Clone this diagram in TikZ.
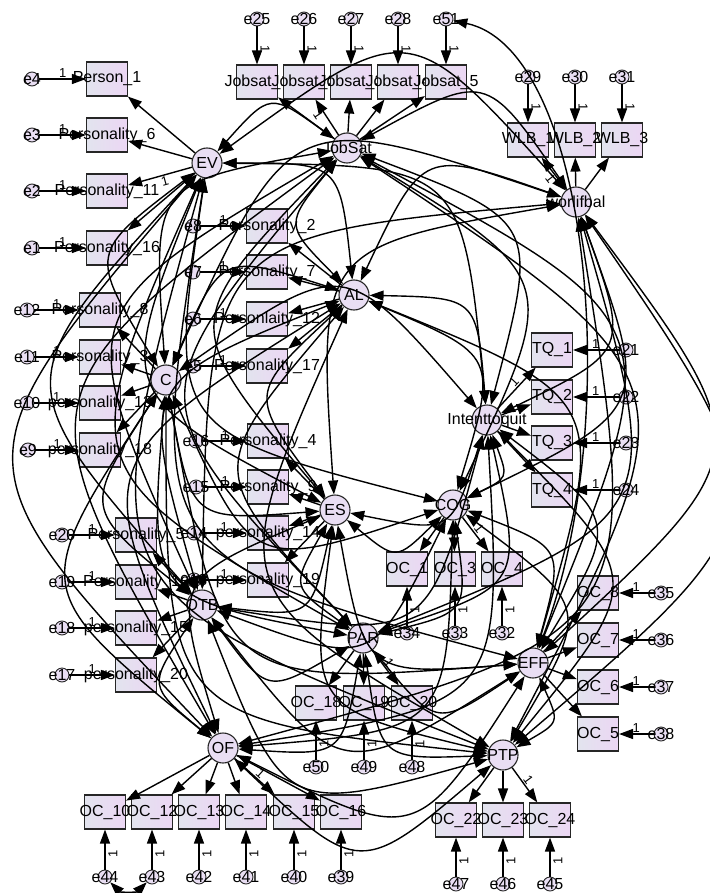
\documentclass[tikz,border=0pt]{standalone}
\usepackage{fontspec}
\setmainfont{Liberation Sans}
\usetikzlibrary{arrows.meta, calc}
\definecolor{boxl}{RGB}{226,228,238}
\definecolor{boxr}{RGB}{236,214,244}
\definecolor{latfill}{RGB}{233,222,243}

\begin{document}
\begin{tikzpicture}[x=1pt,y=-1pt,font=\fontsize{16}{18}\selectfont,
    lat/.style={circle,draw=black!85,line width=1.1pt,fill=latfill,minimum size=30pt,inner sep=0pt,label={center:#1}},
    obs/.style={draw=black!85,line width=1.1pt,left color=boxl,right color=boxr,minimum width=41pt,minimum height=34pt,inner sep=0pt,label={center:#1}},
    err/.style={circle,draw=black!85,line width=0.9pt,fill=latfill,minimum size=14pt,inner sep=0pt,label={center:#1}},
    load/.style={-{Triangle[length=14pt,width=10pt]},line width=1.4pt},
    cov/.style={{Triangle[length=14pt,width=10pt]}-{Triangle[length=14pt,width=10pt]},line width=1.4pt},
    one/.style={font=\fontsize{13}{13}\selectfont,inner sep=1pt}]
    \path[use as bounding box,fill=white] (0,0) rectangle (709,893);

    % latent variables
    \node[lat=EV]           (EV)  at (207,163) {};
    \node[lat=JobSat]       (JS)  at (347,148) {};
    \node[lat=worlifbal]    (WLB) at (576,202) {};
    \node[lat=AL]           (AL)  at (354,295) {};
    \node[lat=C]            (C)   at (166,380) {};
    \node[lat=Intenttoquit] (ITQ) at (487,420) {};
    \node[lat=COG]          (COG) at (453,505) {};
    \node[lat=ES]           (ES)  at (335,510) {};
    \node[lat=OTB]          (OTB) at (202,605) {};
    \node[lat=PAR]          (PAR) at (363,638) {};
    \node[lat=EFF]          (EFF) at (533,663) {};
    \node[lat=OF]           (OF)  at (223,748) {};
    \node[lat=PTP]          (PTP) at (503,755) {};

    % personality items
    \node[obs=Person\_1]        (P1)  at (107,79)  {};
    \node[obs=Personality\_6]   (P6)  at (107,135) {};
    \node[obs=Personality\_11]  (P11) at (107,191) {};
    \node[obs=Personality\_16]  (P16) at (107,248) {};
    \node[obs=Personality\_2]   (P2)  at (267,226) {};
    \node[obs=Personality\_7]   (P7)  at (267,272) {};
    \node[obs=Personlaity\_12]  (P12) at (267,319) {};
    \node[obs=Personality\_17]  (P17) at (267,366) {};
    \node[obs=Personality\_8]   (P8)  at (100,310) {};
    \node[obs=Personality\_3]   (P3)  at (100,357) {};
    \node[obs=personality\_13]  (P13) at (100,403) {};
    \node[obs=personality\_18]  (P18) at (100,450) {};
    \node[obs=Personality\_4]   (P4)  at (268,441) {};
    \node[obs=Personality\_9]   (P9)  at (268,487) {};
    \node[obs=personality\_14]  (P14) at (268,533) {};
    \node[obs=personality\_19]  (P19) at (268,580) {};
    \node[obs=Personality\_5]   (P5)  at (136,535) {};
    \node[obs=Personality\_10]  (P10) at (136,582) {};
    \node[obs=personality\_15]  (P15) at (136,628) {};
    \node[obs=personality\_20]  (P20) at (136,675) {};

    % job satisfaction, work-life balance, intent to quit
    \node[obs=Jobsat\_1] (JS1) at (257,82) {};
    \node[obs=Jobsat\_2] (JS2) at (304,82) {};
    \node[obs=Jobsat\_3] (JS3) at (351,82) {};
    \node[obs=Jobsat\_4] (JS4) at (398,82) {};
    \node[obs=Jobsat\_5] (JS5) at (446,82) {};
    \node[obs=WLB\_1] (WL1) at (528,140) {};
    \node[obs=WLB\_2] (WL2) at (575,140) {};
    \node[obs=WLB\_3] (WL3) at (622,140) {};
    \node[obs=TQ\_1] (TQ1) at (552,350) {};
    \node[obs=TQ\_2] (TQ2) at (552,397) {};
    \node[obs=TQ\_3] (TQ3) at (552,443) {};
    \node[obs=TQ\_4] (TQ4) at (552,490) {};

    % organisational commitment items
    \node[obs=OC\_1]  (OC1)  at (407,569) {};
    \node[obs=OC\_3]  (OC3)  at (455,569) {};
    \node[obs=OC\_4]  (OC4)  at (502,569) {};
    \node[obs=OC\_18] (OC18) at (316,703) {};
    \node[obs=OC\_19] (OC19) at (364,703) {};
    \node[obs=OC\_20] (OC20) at (412,703) {};
    \node[obs=OC\_8]  (OC8)  at (598,593) {};
    \node[obs=OC\_7]  (OC7)  at (598,640) {};
    \node[obs=OC\_6]  (OC6)  at (598,687) {};
    \node[obs=OC\_5]  (OC5)  at (598,734) {};
    \node[obs=OC\_10] (OC10) at (105,812) {};
    \node[obs=OC\_12] (OC12) at (152,812) {};
    \node[obs=OC\_13] (OC13) at (199,812) {};
    \node[obs=OC\_14] (OC14) at (246,812) {};
    \node[obs=OC\_15] (OC15) at (294,812) {};
    \node[obs=OC\_16] (OC16) at (341,812) {};
    \node[obs=OC\_22] (OC22) at (456,820) {};
    \node[obs=OC\_23] (OC23) at (503,820) {};
    \node[obs=OC\_24] (OC24) at (550,820) {};

    % error terms
    \node[err=e4]  (e4)  at (32,79)   {};
    \node[err=e3]  (e3)  at (32,135)  {};
    \node[err=e2]  (e2)  at (32,191)  {};
    \node[err=e1]  (e1)  at (32,248)  {};
    \node[err=e8]  (e8)  at (193,226) {};
    \node[err=e7]  (e7)  at (193,272) {};
    \node[err=e6]  (e6)  at (193,319) {};
    \node[err=e5]  (e5)  at (193,366) {};
    \node[err=e12] (e12) at (27,310)  {};
    \node[err=e11] (e11) at (27,357)  {};
    \node[err=e10] (e10) at (27,403)  {};
    \node[err=e9]  (e9)  at (28,450)  {};
    \node[err=e16] (e16) at (196,441) {};
    \node[err=e15] (e15) at (196,487) {};
    \node[err=e14] (e14) at (194,533) {};
    \node[err=e13] (e13) at (194,580) {};
    \node[err=e20] (e20) at (62,535)  {};
    \node[err=e19] (e19) at (62,582)  {};
    \node[err=e18] (e18) at (62,628)  {};
    \node[err=e17] (e17) at (62,675)  {};
    \node[err=e25] (e25) at (257,19)  {};
    \node[err=e26] (e26) at (304,19)  {};
    \node[err=e27] (e27) at (351,19)  {};
    \node[err=e28] (e28) at (398,19)  {};
    \node[err=e51] (e51) at (446,19)  {};
    \node[err=e29] (e29) at (528,77)  {};
    \node[err=e30] (e30) at (575,77)  {};
    \node[err=e31] (e31) at (622,77)  {};
    \node[err=e21] (e21) at (626,350) {};
    \node[err=e22] (e22) at (626,397) {};
    \node[err=e23] (e23) at (626,443) {};
    \node[err=e24] (e24) at (626,490) {};
    \node[err=e34] (e34) at (407,633) {};
    \node[err=e33] (e33) at (455,633) {};
    \node[err=e32] (e32) at (502,633) {};
    \node[err=e35] (e35) at (661,593) {};
    \node[err=e36] (e36) at (661,640) {};
    \node[err=e37] (e37) at (661,687) {};
    \node[err=e38] (e38) at (661,734) {};
    \node[err=e50] (e50) at (316,767) {};
    \node[err=e49] (e49) at (364,767) {};
    \node[err=e48] (e48) at (412,767) {};
    \node[err=e44] (e44) at (105,877) {};
    \node[err=e43] (e43) at (152,877) {};
    \node[err=e42] (e42) at (199,877) {};
    \node[err=e41] (e41) at (246,877) {};
    \node[err=e40] (e40) at (294,877) {};
    \node[err=e39] (e39) at (341,877) {};
    \node[err=e47] (e47) at (456,884) {};
    \node[err=e46] (e46) at (503,884) {};
    \node[err=e45] (e45) at (550,884) {};

    % loadings
    \foreach \l/\o in {EV/P1,EV/P6,EV/P16,AL/P2,AL/P7,AL/P12,AL/P17,
        C/P8,C/P3,C/P13,C/P18,ES/P4,ES/P9,ES/P14,ES/P19,
        OTB/P5,OTB/P10,OTB/P15,OTB/P20,JS/JS1,JS/JS3,JS/JS4,JS/JS5,
        WLB/WL2,WLB/WL3,ITQ/TQ2,ITQ/TQ3,ITQ/TQ4,COG/OC1,COG/OC3,
        PAR/OC18,PAR/OC19,EFF/OC8,EFF/OC7,EFF/OC6,EFF/OC5,
        OF/OC10,OF/OC12,OF/OC13,OF/OC14,OF/OC16,PTP/OC22,PTP/OC23}
      \draw[load] (\l) -- (\o);
    \draw[load] (EV) -- node[one,sloped,below,pos=0.45]{1} (P11);
    \draw[load] (JS) -- node[one,sloped,below,pos=0.65]{1} (JS2);
    \draw[load] (WLB) -- node[one,sloped,below,pos=0.45]{1} (WL1);
    \draw[load] (ITQ) -- node[one,sloped,above,pos=0.55]{1} (TQ1);
    \draw[load] (COG) -- node[one,sloped,above,pos=0.45]{1} (OC4);
    \draw[load] (PAR) -- node[one,sloped,above,pos=0.45]{1} (OC20);
    \draw[load] (OF) -- node[one,sloped,above,pos=0.55]{1} (OC15);
    \draw[load] (PTP) -- node[one,sloped,above,pos=0.45]{1} (OC24);

    % error paths
    \foreach \e/\o in {e4/P1,e3/P6,e2/P11,e1/P16,e8/P2,e7/P7,e6/P12,e5/P17,
        e12/P8,e11/P3,e10/P13,e9/P18,e16/P4,e15/P9,e14/P14,e13/P19,
        e20/P5,e19/P10,e18/P15,e17/P20,e21/TQ1,e22/TQ2,e23/TQ3,e24/TQ4,
        e35/OC8,e36/OC7,e37/OC6,e38/OC5}
      \draw[load] (\e) -- node[one,above,pos=0.5]{1} (\o);
    \foreach \e/\o in {e25/JS1,e26/JS2,e27/JS3,e28/JS4,e51/JS5,e29/WL1,e30/WL2,e31/WL3}
      \draw[load] (\e) -- node[one,pos=0.6,xshift=8pt,rotate=-90]{1} (\o);
    \foreach \e/\o in {e34/OC1,e33/OC3,e32/OC4,e50/OC18,e49/OC19,e48/OC20,
        e44/OC10,e43/OC12,e42/OC13,e41/OC14,e40/OC15,e39/OC16,
        e47/OC22,e46/OC23,e45/OC24}
      \draw[load] (\e) -- node[one,pos=0.4,xshift=8pt,rotate=90]{1} (\o);

    % covariances between all factors
    \coordinate (ctr) at (402.3,433.7);
    \foreach \a [count=\i] in {EV,JS,WLB,AL,C,ITQ,COG,ES,OTB,PAR,EFF,OF,PTP}
      \foreach \b [count=\j] in {EV,JS,WLB,AL,C,ITQ,COG,ES,OTB,PAR,EFF,OF,PTP}
        {\ifnum\j>\i
          \draw[cov] let \p1=(\a.center), \p2=(\b.center),
              \p3=($(\p1)!0.5!(\p2)$), \p4=($(\p1)!(ctr)!(\p2)$),
              \n1={veclen(\x2-\x1,\y2-\y1)},
              \p5=($(\p4)!-0.45*\n1!(ctr)$)
            in (\a) .. controls ($(\p3)+(\p5)-(\p4)$) .. (\b);
        \fi}
    \draw[cov] (e44) to[bend right=45] (e43);
    \draw[cov] (e51) .. controls (590,50) and (625,420) .. (EFF);
  \end{tikzpicture}
\end{document}
